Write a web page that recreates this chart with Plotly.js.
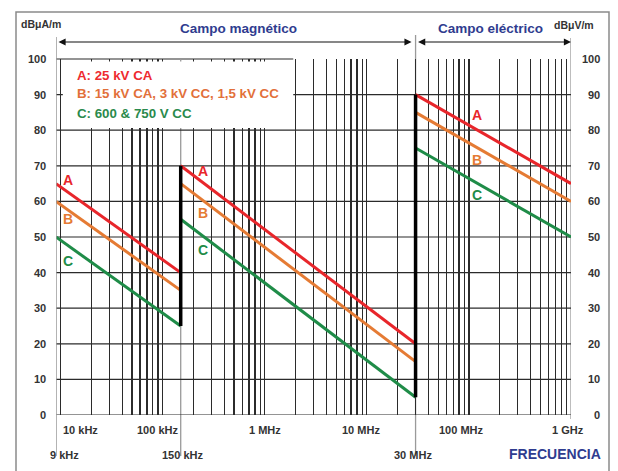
<!DOCTYPE html>
<html><head><meta charset="utf-8">
<script src="https://cdn.plot.ly/plotly-3.0.1.min.js"></script>
<style>html,body{margin:0;padding:0;background:#fff}#chart{width:618px;height:471px}</style>
</head><body><div id="chart"></div>
<script>
// ---- data ----
const segmentFreqs = [[9e3, 150e3], [150e3, 30e6], [30e6, 1e9]];
const seriesNames = ['A', 'B', 'C'];
const limitsA = [[65, 40], [70, 20], [90, 65]];
const limitsB = [[60, 35], [65, 15], [85, 60]];
const limitsC = [[50, 25], [55, 5], [75, 50]];
const legendTexts = ['A: 25 kV CA', 'B: 15 kV CA, 3 kV CC, 1,5 kV CC', 'C: 600 & 750 V CC'];
const yTicks = [0, 10, 20, 30, 40, 50, 60, 70, 80, 90, 100];
const xTickVals = [1e4, 1e5, 1e6, 1e7, 1e8, 1e9];
const xTickText = ['10 kHz', '100 kHz', '1 MHz', '10 MHz', '100 MHz', '1 GHz'];
const boundaryVals = [9e3, 150e3, 30e6];
const boundaryText = ['9 kHz', '150 kHz', '30 MHz'];
const bandTitles = ['Campo magnético', 'Campo eléctrico'];
const unitLeft = 'dBμA/m', unitRight = 'dBμV/m', xTitle = 'FRECUENCIA';

// ---- styles ----
const lineColors = ['#e8262b', '#e57b34', '#1f8c48'];
const textColors = ['#ee2a2f', '#e2703a', '#2a8a4c'];
const blue = '#2f3c8f';
const gridColor = '#2b2b2b';
const FONT = '"Liberation Sans", Arial, sans-serif';
// label positions (log10 x, y) for each segment
const labelPos = [
  [[4.069, 66.0], [4.069, 55.1], [4.069, 43.3]],
  [[5.392, 68.6], [5.392, 56.7], [5.392, 46.3]],
  [[8.076, 84.3], [8.076, 71.6], [8.076, 61.8]]
];

const allLimits = [limitsA, limitsB, limitsC];
const traces = [];
allLimits.forEach((lim, si) => {
  const xs = [], ys = [];
  segmentFreqs.forEach((seg, k) => {
    xs.push(seg[0], seg[1], null);
    ys.push(lim[k][0], lim[k][1], null);
  });
  traces.push({x: xs, y: ys, type: 'scatter', mode: 'lines', connectgaps: false,
    line: {color: lineColors[si], width: 3}, hoverinfo: 'skip', showlegend: false});
});
// black vertical jumps at segment boundaries (lowest end of previous -> highest start of next)
const jx = [], jy = [];
for (let k = 1; k < segmentFreqs.length; k++) {
  const f = segmentFreqs[k][0];
  const lo = Math.min(...allLimits.map(l => l[k - 1][1]));
  const hi = Math.max(...allLimits.map(l => l[k][0]));
  jx.push(f, f, null); jy.push(lo, hi, null);
}
traces.push({x: jx, y: jy, type: 'scatter', mode: 'lines', line: {color: '#000', width: 3.5},
  hoverinfo: 'skip', showlegend: false});

// ---- geometry (px) ----
const W = 618, H = 471, ML = 56, MR = 47, MT = 59, MB = 56;
const PW = W - ML - MR, PH = H - MT - MB;
const py = p => 1 + (MT - p) / PH;       // pixel y -> paper y
const px = p => (p - ML) / PW;            // pixel x -> paper x

const annotations = [];
const tickFont = {family: FONT, size: 11, color: '#333', weight: 'bold'};
// y tick labels both sides
yTicks.forEach(v => {
  annotations.push({x: 0, xref: 'paper', xshift: -8, y: v, yref: 'y', xanchor: 'right', yanchor: 'middle',
    text: String(v), showarrow: false, font: tickFont});
  annotations.push({x: 1, xref: 'paper', xshift: 31, y: v, yref: 'y', xanchor: 'right', yanchor: 'middle',
    text: String(v), showarrow: false, font: tickFont});
});
// x tick labels
const xShifts = [0, -5, 0, -6, -7, -3];
xTickVals.forEach((v, i) => {
  annotations.push({x: Math.log10(v), xref: 'x', y: py(430), yref: 'paper',
    xanchor: i === 0 ? 'left' : 'center', xshift: xShifts[i], yanchor: 'middle',
    text: xTickText[i], showarrow: false, font: tickFont});
});
const bShifts = [8, 2, -3];
boundaryVals.forEach((v, i) => {
  annotations.push({x: Math.log10(v), xref: 'x', y: py(455), yref: 'paper', xanchor: 'center',
    xshift: bShifts[i], yanchor: 'middle', text: boundaryText[i], showarrow: false, font: tickFont});
});
// legend lines
legendTexts.forEach((t, i) => {
  annotations.push({x: px(75), xref: 'paper', y: py(75 + 19 * i), yref: 'paper', xanchor: 'left', yanchor: 'middle',
    text: t, showarrow: false, font: {family: FONT, size: 13.3, color: textColors[i], weight: 'bold'}});
});
// series labels along lines
labelPos.forEach(seg => seg.forEach((p, si) => {
  annotations.push({x: p[0], xref: 'x', y: p[1], yref: 'y', text: seriesNames[si], showarrow: false,
    xanchor: 'center', yanchor: 'middle', font: {family: FONT, size: 14, color: lineColors[si], weight: 'bold'}});
}));
// band titles and units
annotations.push({x: px(238), xref: 'paper', y: py(29), yref: 'paper', text: bandTitles[0], showarrow: false,
  xanchor: 'center', yanchor: 'middle', font: {family: FONT, size: 13.5, color: blue, weight: 'bold'}});
annotations.push({x: px(490), xref: 'paper', y: py(28), yref: 'paper', text: bandTitles[1], showarrow: false,
  xanchor: 'center', yanchor: 'middle', font: {family: FONT, size: 13.5, color: blue, weight: 'bold'}});
annotations.push({x: px(41), xref: 'paper', y: py(24), yref: 'paper', text: unitLeft, showarrow: false,
  xanchor: 'center', yanchor: 'middle', font: {family: FONT, size: 10.5, color: '#333', weight: 'bold'}});
annotations.push({x: px(574), xref: 'paper', y: py(25), yref: 'paper', text: unitRight, showarrow: false,
  xanchor: 'center', yanchor: 'middle', font: {family: FONT, size: 10.5, color: '#333', weight: 'bold'}});
annotations.push({x: px(555), xref: 'paper', y: py(454), yref: 'paper', text: xTitle, showarrow: false,
  xanchor: 'center', yanchor: 'middle', font: {family: FONT, size: 14, color: blue, weight: 'bold'}});
// double-headed band arrows
const bands = [[boundaryVals[0], boundaryVals[2]], [boundaryVals[2], xTickVals[5]]];
bands.forEach((b, i) => {
  annotations.push({x: Math.log10(b[1]), xref: 'x', y: py(42), yref: 'paper',
    ax: Math.log10(b[0]), axref: 'x', ay: 0, ayref: 'pixel', text: '', showarrow: true,
    arrowside: 'end+start', arrowhead: 2, startarrowhead: 2, arrowsize: 1.3, startarrowsize: 1.3,
    arrowwidth: 1.1, arrowcolor: '#111', standoff: i === 0 ? 4 : 0, startstandoff: 1});
});

const grey = '#9a9a9a';
const shapes = [
  // outer frame
  {type: 'rect', xref: 'paper', yref: 'paper', x0: px(16), x1: px(609), y0: py(480), y1: py(12),
    line: {color: '#8a8a8a', width: 1.5}, layer: 'below'},
  // legend white box
  {type: 'rect', xref: 'x', yref: 'y', x0: 10.5e3, x1: 1.9e6, y0: 80.6, y1: 99.3,
    fillcolor: '#fff', line: {width: 0}, layer: 'between'},
  // 100 line only above the legend part
  {type: 'line', xref: 'x', yref: 'paper', x0: 9e3, x1: 1.9e6, y0: 1, y1: 1,
    line: {color: gridColor, width: 1.2}, layer: 'below'},
  // grey boundary lines
  {type: 'line', xref: 'x', yref: 'paper', x0: 9e3, x1: 9e3, y0: py(456), y1: py(37), line: {color: grey, width: 1.5}, layer: 'above'},
  {type: 'line', xref: 'x', yref: 'paper', x0: 150e3, x1: 150e3, y0: py(456), y1: 1, line: {color: grey, width: 1.3}, layer: 'below'},
  {type: 'line', xref: 'x', yref: 'paper', x0: 30e6, x1: 30e6, y0: py(456), y1: py(35), line: {color: grey, width: 1.3}, layer: 'below'},
  {type: 'line', xref: 'x', yref: 'paper', x0: 1e9, x1: 1e9, y0: py(419), y1: py(38), line: {color: grey, width: 1.3}, layer: 'below'}
];
// horizontal grid lines (0..90) from the y scale
yTicks.slice(0, -1).forEach(v => {
  shapes.push({type: 'line', xref: 'paper', yref: 'y', x0: 0, x1: 1, y0: v, y1: v,
    line: {color: gridColor, width: 1.2}, layer: 'below'});
});

const layout = {
  width: W, height: H, margin: {l: ML, r: MR, t: MT, b: MB, pad: 0},
  paper_bgcolor: '#fff', plot_bgcolor: 'rgba(0,0,0,0)', showlegend: false,
  xaxis: {type: 'log', range: [Math.log10(9e3), 9], dtick: 'D1', showticklabels: false, ticks: '',
    showgrid: true, gridcolor: gridColor, gridwidth: 1.2, zeroline: false, showline: false, fixedrange: true},
  yaxis: {range: [0, 100], showticklabels: false, ticks: '',
    showgrid: false, zeroline: false, showline: false, fixedrange: true},
  shapes: shapes, annotations: annotations
};
Plotly.newPlot('chart', traces, layout, {staticPlot: true, displayModeBar: false});
</script></body></html>
